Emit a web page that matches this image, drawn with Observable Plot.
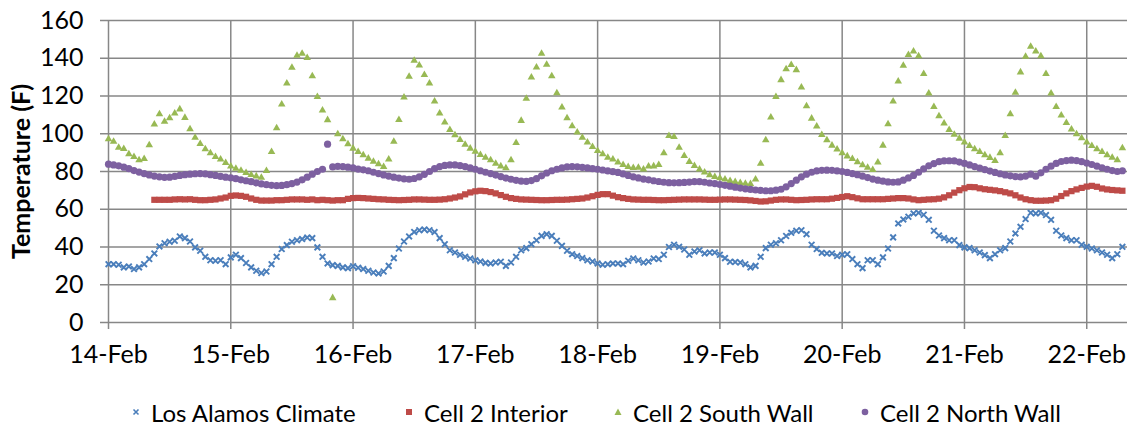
<!DOCTYPE html>
<html><head><meta charset="utf-8">
<script src="https://cdn.jsdelivr.net/npm/d3@7"></script>
<script src="https://cdn.jsdelivr.net/npm/@observablehq/plot@0.6"></script>
<style>
body{margin:0;background:#fff;font-family:Lato,sans-serif;}
#wrap{position:relative;width:1133px;height:426px;overflow:hidden;}
#chart{position:absolute;left:0;top:0;}
#legend{position:absolute;left:0;top:398px;width:1133px;height:28px;font-size:24px;color:#000;}
.item{position:absolute;top:0;height:28px;display:flex;align-items:center;white-space:nowrap;}
.item svg{margin-right:10px;}
</style></head><body>
<div id="wrap"><div id="chart"></div><div id="legend"></div></div>
<script>
const startDate = Date.UTC(2013, 1, 14);
const seriesNames = ["Los Alamos Climate", "Cell 2 Interior", "Cell 2 South Wall", "Cell 2 North Wall"];
const yTicks = [0, 20, 40, 60, 80, 100, 120, 140, 160];
const dayLabels = ["14-Feb", "15-Feb", "16-Feb", "17-Feb", "18-Feb", "19-Feb", "20-Feb", "21-Feb", "22-Feb"];

// hourly readings starting 14-Feb 00:00
const losAlamos = [
30.9,30.9,30.6,29.2,29.7,28.3,29.2,30.9,33.6,36.6, 40.3,42,42.8,43.3,45.6,44.7,42.9,39.8,38,34.8,
33,32.7,33,30.9,34.5,35.9,34.1,31.5,29.2,27.4, 26.2,27,30.9,34.8,38.9,41,42.8,43.6,44.2,45,
44.7,39.8,34.8,31.3,30.4,30,29.2,28.8,29.8,29,
28.3,27.4,26.5,26,27,30,34.1,39.2,42.9,45.6, 48,48.9,49.3,48.9,47.9,44.7,41.5,38.3,37.1,35.9,
34.8,33.9,33,32.3,31.6,31.3,31.8,32.2,30,31.8, 34.8,38.3,39.4,41.5,43.6,45.9,46.8,45.9,43.3,40.6,
38,36.2,35.2,34.1,33,32.3,31.3,30.6,30.9,31.3,
31.3,30.9,32.7,33.9,33,31.8,32.3,33.9,33.6,35.9, 40,41.2,40.1,38.7,35.9,37.6,38.3,36.6,37.1,37.1,
35.9,34.1,32.2,32,31.8,30.9,29.2,30,34.8,39.4, 41.2,42,43.6,45.8,47.5,48.6,48.9,46.8,41.2,38.9,
36.9,36.6,36.6,35.2,35.9,36.2,33.6,30.9,28.8,33,
33,30.9,34.5,39.2,45.1,52.5,54.6,56,57.8,58.1, 57.1,54.4,48.6,46.1,44.7,43.6,43.6,41,39.8,39.4,
38.3,37.1,35.7,34.1,36.2,38.3,39.4,42.9,47.2,50.7, 54.8,58.1,57.8,58.1,56.9,54.4,48.6,46.1,44.7,43.6,
43.6,41.2,40.1,39.2,38.3,37.1,35.9,34.1,36.2,40.1
];
const interior = [
null,null,null,null,null,null,null,null,null,65, 65,65,65,65.2,65.3,65.2,65.3,65,64.8,64.8,
65,65.2,65.7,66.2,67.1,67.3,67.1,66.6,65.7,65, 64.6,64.6,64.6,64.8,64.8,65,65.2,65.2,65.2,65,
65.2,64.8,65,64.8,64.6,64.8,64.8,65.5,65.9,66,
65.9,65.7,65.5,65.3,65.2,65,64.9,64.8,64.9,65, 65.2,65.2,65.1,65,65,65.1,65.3,65.7,66.2,66.8,
67.9,68.9,69.5,69.8,69.6,69.1,68.4,67.5,66.6,65.9, 65.5,65.2,65.1,65,64.9,64.8,64.8,64.9,65,65,
65.1,65.3,65.5,65.7,66.2,66.9,67.6,68,68,67.2,
66.4,65.9,65.5,65.2,65.1,65,65,64.9,64.8,64.8, 64.9,65,65.1,65.2,65.2,65.2,65.2,65.1,65,65,
65.1,65.2,65.2,65.1,65,64.9,64.7,64.4,64.1,64.2, 64.6,65,65.2,65.2,65,64.8,64.9,65,65.2,65.3,
65.3,65.3,65.6,66,66.5,66.9,66.4,65.8,65.3,65.3,
65.3,65.3,65.3,65.5,65.7,65.9,65.9,65.7,65.2,64.8, 65,65.2,65.3,65.6,66.3,67.4,68.8,70.1,71.1,71.8,
71.7,71.1,70.6,70.3,70,69.6,69,68.4,67.4,66.2, 65.3,64.8,64.5,64.5,64.6,64.8,65.6,67,68.4,69.6,
70.5,71.3,72,72.4,71.9,71,70.5,70.2,70,69.8
];
const southWall = [
97.2,95.8,92.7,92,89.2,87.8,86,86.7,94,105, 110.4,106.4,108.3,110.8,113,108.5,102.5,98,94.7,91.9,
89.7,87.8,86.4,84.6,82.7,81.6,80.5,79.3,78.2,77.5, 76.8,80.4,90.4,103,115.6,126.7,135,141.4,142.5,140.2,
130.6,119.5,112.4,107.3,13,99.8,97.2,94.5,92.2,90.4,
88.7,86.9,85.3,83.9,82.5,86.5,95.8,107.4,119.3,130.3, 138.8,136.3,131.2,126.7,117.2,110.8,106,102.1,99.3,96.8,
94.2,92.2,90.6,88.8,87.4,86,84.2,82.8,81.8,86, 95.2,106.9,118.6,129.9,135.2,142.5,136.6,130.6,121.6,114,
108.3,104.1,100.7,98,95.4,93.1,91,89.2,87.4,86.5,
84.8,83.5,82.5,81.9,82.1,81.2,82.7,82.8,83.5,89.7, 98.9,98.4,92.7,88.3,85.1,83,81.2,79.5,78.1,77.2,
76.5,75.8,75.1,74.5,74,73.6,73.4,75.8,84.2,96.6, 108.7,119.6,128.5,134.3,136.5,133.8,124.6,114.7,108.1,103.9,
99.4,96.6,93.8,91.7,89.7,88.1,86.7,85,83.4,82.1,
80.9,84.8,93.8,105.1,117.2,127.8,136.1,141.8,143.7,141.2, 131.7,121.4,114.3,109.4,105.5,102.1,99.6,97.5,95.4,93.6,
91.9,90.4,88.7,87.3,85.7,89.7,98.9,110.4,121.8,132.6, 140.9,146.2,143.7,141.2,131.7,121.4,114.3,109.7,105.8,102.3,
99.8,97.7,95.4,93.6,91.9,90.4,88.7,87.4,86,92.4
];
const northWall = [
83.9,83.5,83,82.3,81.5,80.5,79.7,78.9,78.2,77.6, 77.2,76.9,77,77.4,77.9,78.3,78.6,78.8,78.9,78.7,
78.3,77.9,77.4,77,76.7,76.2,75.6,75.1,74.6,74, 73.4,73,72.7,72.5,72.6,73,73.6,74.4,75.6,77,
78.6,80,81.2,94.5,82.4,82.7,82.6,82.3,81.9,81.3,
80.9,80.4,79.6,78.9,78.2,77.6,77,76.5,76.1,75.9, 76.3,77.2,78.5,80,81.5,82.6,83.2,83.5,83.5,83.1,
82.6,81.9,81.2,80.4,79.6,78.9,78.1,77.3,76.5,75.9, 75.3,74.9,74.8,75.2,76.2,77.7,79.2,80.4,81.2,81.9,
82.4,82.6,82.5,82.2,81.9,81.5,81.2,80.8,80.3,79.9,
79.5,78.7,77.9,77.2,76.6,76,75.6,75.1,74.7,74.3, 74.1,74,74.1,74.2,74.4,74.6,74.6,74.3,73.9,73.6,
73.1,72.7,72.2,71.7,71.2,70.8,70.5,70.2,70,69.8, 69.8,70.1,70.6,71.9,73.6,75.4,77.2,78.6,79.6,80.3,
80.6,80.7,80.6,80.3,80,79.5,78.9,78.3,77.5,76.8,
76,75.4,74.9,74.5,74.3,74.5,75.4,76.6,77.9,79.6, 81.4,83,84.2,85.2,85.6,85.7,85.6,85,84.3,83.5,
82.6,81.8,81,80.2,79.5,78.8,78.2,77.7,77.3,77.1, 77.6,78.6,77.5,79.3,81.2,82.8,84.3,85.3,85.8,86,
85.8,85.2,84.5,83.7,82.8,82,81.2,80.5,80,80.4
];

const colors = ["#4A7EBB", "#BE4B48", "#98B954", "#7D60A0"];
const HOUR = 3600e3, DAY = 24 * HOUR;
const toRows = (arr, name) => arr.map((v, i) => ({date: new Date(startDate + i * HOUR), value: v, series: name}))
  .filter(d => d.value != null);
const rows = [losAlamos, interior, southWall, northWall].map((a, k) => toRows(a, seriesNames[k]));
const dayDates = dayLabels.map((l, i) => new Date(startDate + i * DAY));
const labelByTime = new Map(dayDates.map((d, i) => [+d, dayLabels[i]]));
const gridColor = "#878787";

const chart = Plot.plot({
  width: 1133, height: 384,
  marginLeft: 108, marginRight: 6, marginTop: 20, marginBottom: 62,
  style: {fontFamily: "Lato, sans-serif", fontSize: "25px", color: "#000", background: "#fff", overflow: "visible"},
  x: {type: "utc", domain: [new Date(startDate), new Date(startDate + 200 * HOUR)]},
  y: {domain: [0, 160]},
  marks: [
    Plot.ruleY(yTicks, {y: d => d, stroke: gridColor, strokeWidth: 1.5}),
    Plot.ruleX(dayDates, {x: d => d, stroke: gridColor, strokeWidth: 1.5}),
    Plot.axisY(yTicks, {tickSize: 8, tickPadding: 17, stroke: gridColor, strokeWidth: 1.5, fill: "#000", fontSize: 25,
      label: "Temperature (F)", labelAnchor: "center", labelArrow: "none", labelOffset: 96}),
    Plot.axisX(dayDates, {tickSize: 7, tickPadding: 16, stroke: gridColor, strokeWidth: 1.5, fill: "#000", fontSize: 25,
      tickFormat: d => labelByTime.get(+d), label: null}),
    Plot.dot(rows[0], {x: "date", y: "value", symbol: "times", r: 2.7, stroke: colors[0], strokeWidth: 1.9}),
    Plot.dot(rows[1], {x: "date", y: "value", symbol: "square", r: 3.5, fill: colors[1]}),
    Plot.dot(rows[2], {x: "date", y: "value", symbol: "triangle", r: 2.8, fill: colors[2]}),
    Plot.dot(rows[3], {x: "date", y: "value", symbol: "circle", r: 3.6, fill: colors[3]})
  ]
});
document.getElementById("chart").appendChild(chart);
d3.select(chart).selectAll('g[aria-label="y-axis label"] text')
  .style("font-weight", "bold").style("font-size", "25px");

// legend
const legendX = [136, 409, 618, 865];
const symbolsSvg = [
  c => `<svg width="10" height="10"><path d="M2.5,2.5L7.5,7.5M7.5,2.5L2.5,7.5" stroke="${c}" stroke-width="1.6"/></svg>`,
  c => `<svg width="10" height="10"><rect x="2" y="2" width="6" height="6" fill="${c}"/></svg>`,
  c => `<svg width="10" height="10"><path d="M5,1.5L8.5,8L1.5,8Z" fill="${c}"/></svg>`,
  c => `<svg width="10" height="10"><circle cx="5" cy="5" r="3.3" fill="${c}"/></svg>`
];
const legend = document.getElementById("legend");
seriesNames.forEach((name, i) => {
  const el = document.createElement("div");
  el.className = "item";
  el.style.left = (legendX[i] - 5) + "px";
  el.innerHTML = symbolsSvg[i](colors[i]) + `<span>${name}</span>`;
  legend.appendChild(el);
});
</script>
</body></html>
